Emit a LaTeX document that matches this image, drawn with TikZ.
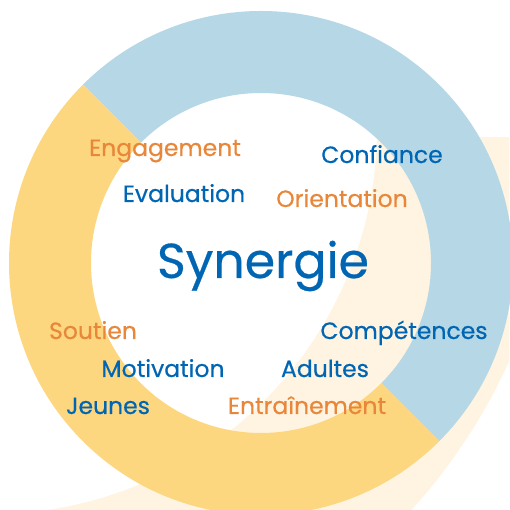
\documentclass[tikz,border=0pt]{standalone}
\usepackage{fontspec}
\setmainfont{Poppins}[FakeBold=0.5]
\usetikzlibrary{positioning}

\definecolor{ringblue}{HTML}{B6D7E5}
\definecolor{ringyellow}{HTML}{FDD780}
\definecolor{cream}{HTML}{FEF4E1}
\definecolor{textblue}{HTML}{0066B3}
\definecolor{textorange}{HTML}{E8873A}

\begin{document}
\begin{tikzpicture}[x=1pt,y=1pt,
        motbleu/.style={text=textblue, font=\fontsize{23.5}{26}\selectfont, anchor=base, inner sep=0pt},
        motorange/.style={text=textorange, font=\fontsize{23.5}{26}\selectfont, anchor=base, inner sep=0pt},
        titre/.style={text=textblue, font=\fontsize{49}{56}\selectfont, anchor=base, inner sep=0pt}]
                \useasboundingbox (0,0) rectangle (509,510);
                \coordinate (c) at (261,247);
                \coordinate (lune) at (-9,382);

                % band behind the ring
                \begin{scope}
                        \clip (0,0) rectangle (509,372);
                        \fill[cream, even odd rule] (lune) circle (568) (lune) circle (386);
                \end{scope}

                % ring
                \fill[ringblue] ([shift={(135:252)}]c) arc[start angle=135, end angle=-45, radius=252]
                        -- ([shift={(-45:170)}]c) arc[start angle=-45, end angle=135, radius=170] -- cycle;
                \fill[ringyellow] ([shift={(135:252)}]c) arc[start angle=135, end angle=315, radius=252]
                        -- ([shift={(315:170)}]c) arc[start angle=315, end angle=135, radius=170] -- cycle;

                \node[titre] (synergie) at (263,232) {Synergie};
                \node[motorange] (engagement) at (165,354) {Engagement};
                \node[motbleu] (confiance) at (382,347) {Confiance};
                \node[motbleu] (evaluation) at (184,308) {Evaluation};
                \node[motorange] (orientation) at (342,303) {Orientation};
                \node[motorange] (soutien) at (93,171) {Soutien};
                \node[motbleu] (competences) at (404,171) {Compétences};
                \node[motbleu] (motivation) at (163,133) {Motivation};
                \node[motbleu] (adultes) at (325,133) {Adultes};
                \node[motbleu] (jeunes) at (108,96) {Jeunes};
                \node[motorange] (entrainement) at (307,96) {Entraînement};
            \end{tikzpicture}
\end{document}
